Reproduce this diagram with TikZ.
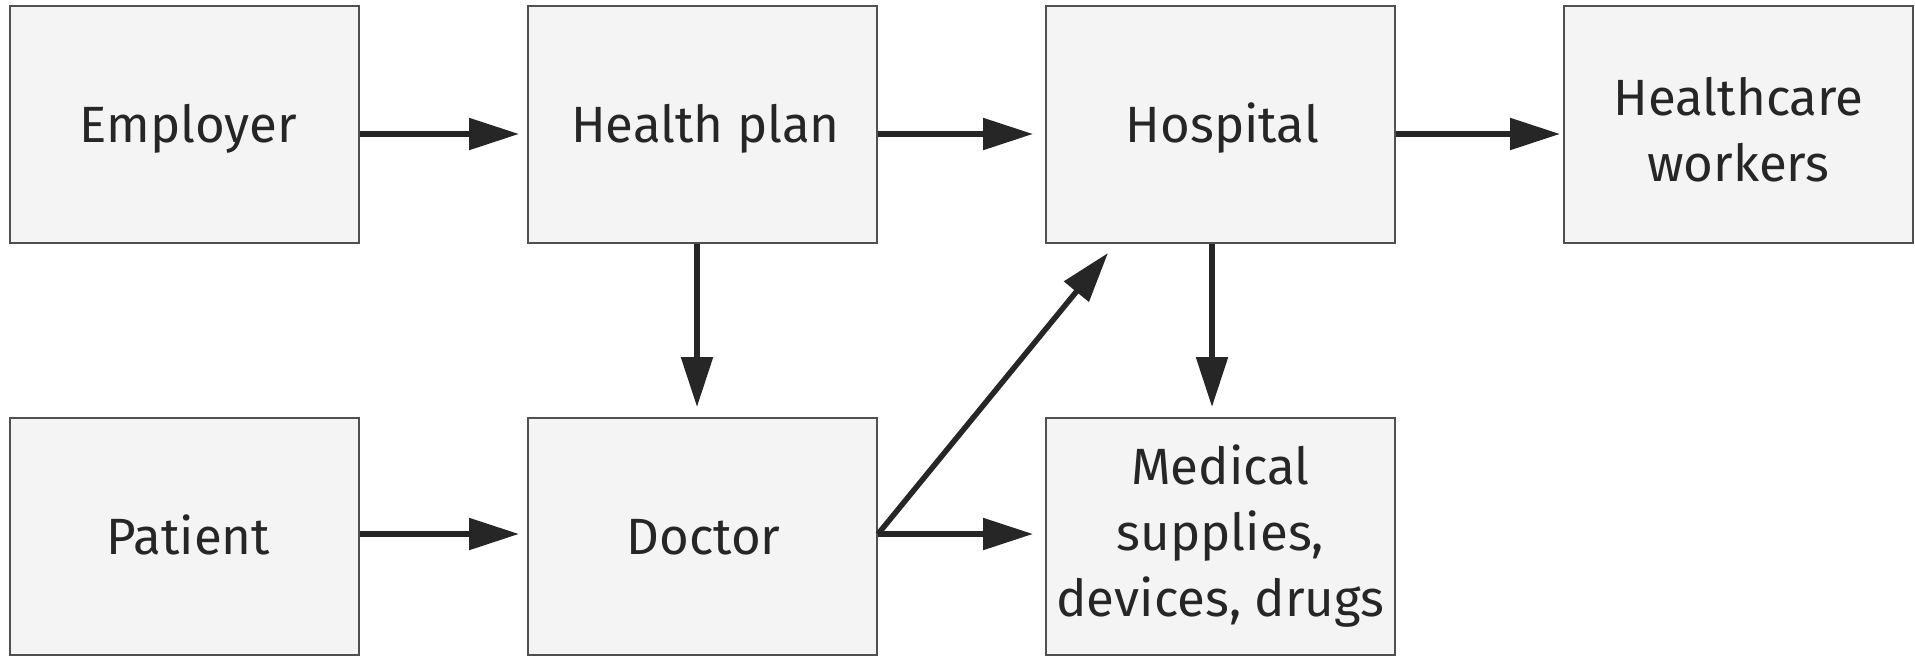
\documentclass[tikz,border=0pt]{standalone}
\usepackage{fontspec}
\setmainfont{Fira Sans}
\usetikzlibrary{arrows.meta}
\definecolor{boxfill}{HTML}{F4F4F4}
\definecolor{boxline}{HTML}{505050}
\definecolor{ink}{HTML}{262626}
\begin{document}
\begin{tikzpicture}[x=1pt,y=-1pt,
  box/.style={draw=boxline, line width=2pt, fill=boxfill, minimum width=349pt, minimum height=237pt,
    inner sep=0pt, text=ink, font=\fontsize{51}{66}\selectfont, align=center},
  one/.style={text height=35pt, text depth=0pt},
  flow/.style={draw=ink, line width=5.5pt, -{Triangle[length=50pt,width=31pt]}},
]
\useasboundingbox (0,0) rectangle (1915,656);
\node[box,one] (emp)  at (184.5,124.5)  {\hspace*{8pt}Employer};
\node[box,one] (hp)   at (702.5,124.5)  {\hspace*{6pt}Health plan};
\node[box,one] (hosp) at (1220.5,124.5) {\hspace*{4pt}Hospital};
\node[box]     (hcw)  at (1738.5,124.5) {\rule{0pt}{48pt}Healthcare\\workers};
\node[box,one] (pat)  at (184.5,536.5)  {\hspace*{8pt}Patient};
\node[box,one] (doc)  at (702.5,536.5)  {\hspace*{2pt}Doctor};
\node[box]     (med)  at (1220.5,536.5) {Medical\\supplies,\\devices, drugs};
\coordinate (diagtip) at (1108,253);
\draw[flow, shorten >=8pt] ([yshift=-9.5pt]emp.east) -- ([yshift=-9.5pt]hp.west);
\draw[flow, shorten >=12pt] ([yshift=-9.5pt]hp.east) -- ([yshift=-9.5pt]hosp.west);
\draw[flow, shorten >=3pt] ([yshift=-9.5pt]hosp.east) -- ([yshift=-9.5pt]hcw.west);
\draw[flow, shorten >=8pt] ([yshift=2.5pt]pat.east) -- ([yshift=2.5pt]doc.west);
\draw[flow, shorten >=12pt] ([yshift=2.5pt]doc.east) -- ([yshift=2.5pt]med.west);
\draw[flow, shorten >=10pt] ([xshift=-5.5pt]hp.south) -- ([xshift=-5.5pt]doc.north);
\draw[flow, shorten >=10pt] ([xshift=-8.5pt]hosp.south) -- ([xshift=-8.5pt]med.north);
\draw[flow] ([yshift=2.5pt]doc.east) -- (diagtip);
\end{tikzpicture}
\end{document}
